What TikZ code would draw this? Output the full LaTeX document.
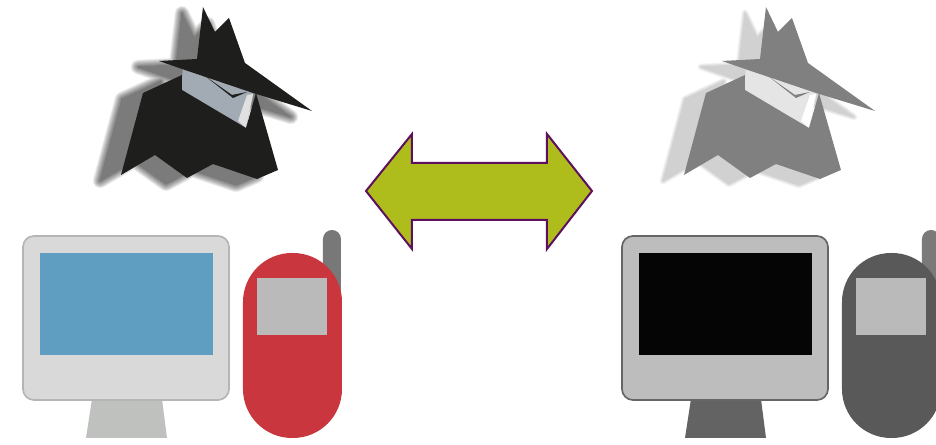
\documentclass[tikz,border=0pt]{standalone}
\usepackage{xcolor}
\usetikzlibrary{calc}

\definecolor{spydark}{HTML}{1E1E1C}
\definecolor{spygrey}{HTML}{808080}
\definecolor{collarblue}{HTML}{A2AAB3}
\definecolor{arrowgreen}{HTML}{AEBD1C}
\definecolor{arrowpurple}{HTML}{5E0F5E}
\definecolor{screenblue}{HTML}{5F9EC0}
\definecolor{phonered}{HTML}{C9363E}
\definecolor{standgrey}{HTML}{BFC1BF}

\tikzset{
  frameline/.style={line width=0.17mm}
}

% Outlines of the figure, hat and coat
\newcommand{\spyoutline}{(159,61) -- (197,59) -- (203,7) -- (215,32) -- (229,18) -- (245,63) -- (312,111) -- (253,93) -- (182,69) -- cycle
  (182,75) -- (143,93) -- (121,175) -- (155,155) -- (187,178) -- (213,164) -- (257,179) -- (278,170) -- (256,93) -- (246,128) -- (182,90) -- cycle}

% #1 figure, #2 collar, #3 collar edge, #4 shadow, #5 shadow opacity, #6 blur
\newcommand{\spyfigure}[6]{
  \begin{scope}[shift={(-21,6)}]
    \foreach \w in {0,1,...,9} {
      \begin{scope}[transparency group,opacity=#5]
        \path[fill=#4,draw=#4,line join=round,line width=\w*#6 mm] \spyoutline;
      \end{scope}
    }
  \end{scope}
  \fill[#2] (183,68) -- (181,90) -- (246,128) -- (254,92) -- cycle;
  \fill[#3] (238,121) -- (246,128) -- (253,94) -- (247,95) -- cycle;
  \fill[#1] \spyoutline;
  \fill[#1] (205,76) -- (232,95) -- (247,92) -- (233,98) -- cycle;
}

% #1 case, #2 case edge, #3 screen, #4 stand, #5 phone, #6 antenna
\newcommand{\terminal}[6]{
  \fill[#4] (92,399) -- (162,399) -- (167,438) -- (86,438) -- cycle;
  \draw[frameline,draw=#2,fill=#1,rounded corners=1.1mm] (23,236) rectangle (229,400);
  \fill[#3] (40,253) rectangle (213,355);
  \fill[#6,rounded corners=0.9mm] (323,230) rectangle (341,300);
  \fill[#5,rounded corners=4.9mm] (243,253) rectangle (342,438);
  \fill[black!27] (257,278) rectangle (327,335);
}

\begin{document}
\begin{tikzpicture}[x=0.1mm,y=-0.1mm]
  \useasboundingbox (0,0) rectangle (936,445);
  \clip (0,0) rectangle (936,445);

  % Figures
  \spyfigure{spydark}{collarblue}{black!12}{black}{0.07}{0.16}
  \begin{scope}[xshift=5.63cm]
    \spyfigure{spygrey}{black!10}{white}{black}{0.02}{0.08}
  \end{scope}

  % Arrow between the two sides
  \coordinate (L) at (366,191);
  \coordinate (R) at (592,191);
  \draw[line width=0.2mm,draw=arrowpurple,fill=arrowgreen,line join=miter]
    (L) -- (412,134) -- (412,163) -- (547,163) -- (547,134) -- (R)
    -- (547,249) -- (547,220) -- (412,220) -- (412,249) -- cycle;

  % Screens and phones
  \terminal{black!15}{black!29}{screenblue}{standgrey}{phonered}{black!53}
  \begin{scope}[xshift=5.99cm]
    \terminal{black!26}{black!60}{black!98}{black!61}{black!65}{black!52}
  \end{scope}
\end{tikzpicture}
\end{document}
